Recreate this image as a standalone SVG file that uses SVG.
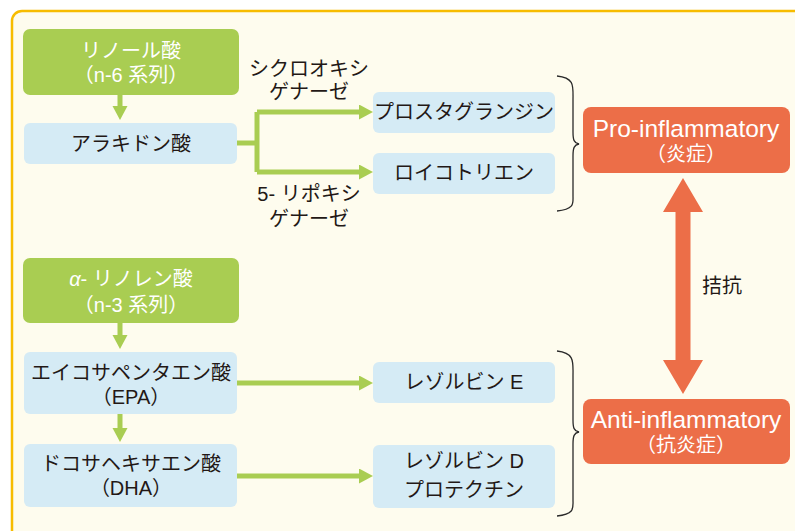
<svg xmlns="http://www.w3.org/2000/svg" width="795" height="531" viewBox="0 0 795 531">
<defs>
<style>
.jp{font-family:"Liberation Sans","Noto Sans CJK JP",sans-serif;font-size:20px;fill:#231815;text-anchor:middle}
.wt{fill:#ffffff}
.en{font-family:"Liberation Sans","Noto Sans CJK JP",sans-serif;font-size:24.5px;fill:#ffffff;text-anchor:middle}
.sub{font-size:20px}
.green{fill:#A9CD52}
.blue{fill:#D5EBF5}
.orange{fill:#EC6E48}
.gline{stroke:#A9CD52;stroke-width:5;fill:none}
.brace{stroke:#2a2a2a;stroke-width:1.3;fill:none}
</style>
<marker id="ga" markerUnits="userSpaceOnUse" markerWidth="14" markerHeight="16" refX="0" refY="7.5" orient="auto">
<path d="M0,0 L14,7.5 L0,15 z" fill="#A9CD52"/>
</marker>
</defs>
<rect x="12" y="11" width="800" height="540" rx="10" fill="#FEFCEE" stroke="#F7BC00" stroke-width="2.5"/>

<g id="connectors">
<line class="gline" x1="120" y1="95" x2="120" y2="106" marker-end="url(#ga)"/>
<path class="gline" d="M237,143 H257 M257,112 V172"/>
<line class="gline" x1="257" y1="112" x2="359" y2="112" marker-end="url(#ga)"/>
<line class="gline" x1="257" y1="172" x2="359" y2="172" marker-end="url(#ga)"/>
<line class="gline" x1="120" y1="323" x2="120" y2="335" marker-end="url(#ga)"/>
<line class="gline" x1="120" y1="414" x2="120" y2="428" marker-end="url(#ga)"/>
<line class="gline" x1="237" y1="383" x2="359" y2="383" marker-end="url(#ga)"/>
<line class="gline" x1="237" y1="476" x2="359" y2="476" marker-end="url(#ga)"/>
<path class="brace" d="M557,76 C575,78 573,86 573,100 L573,132 C573,140 574,143 579,144 C574,145 573,148 573,156 L573,196 C573,203 575,209 557,211"/>
<path class="brace" d="M557,351 C575,353 573,362 573,376 L573,420 C573,428 574,431 579,432 C574,433 573,436 573,444 L573,500 C573,508 575,514 557,516"/>
<polygon class="orange" points="683,178 703,212 690.5,212 690.5,360 703,360 683,394 663,360 675.5,360 675.5,212 663,212"/>
<text class="jp" x="702" y="293" style="text-anchor:start">拮抗</text>
</g>

<g id="n6">
<rect class="green" x="23" y="29" width="216" height="66" rx="7"/>
<text class="jp wt" x="131" y="58">リノール酸<tspan x="131" dy="24">（n-6 系列）</tspan></text>
</g>
<g id="aa">
<rect class="blue" x="24" y="123" width="213" height="41" rx="6"/>
<text class="jp" x="131" y="151">アラキドン酸</text>
</g>
<g id="cox">
<text class="jp" x="309" y="75.5">シクロオキシ<tspan x="309" dy="23">ゲナーゼ</tspan></text>
</g>
<g id="lox">
<text class="jp" x="309" y="201">5- リポキシ<tspan x="309" dy="25">ゲナーゼ</tspan></text>
</g>
<g id="pg">
<rect class="blue" x="373" y="92" width="182" height="41" rx="6"/>
<text class="jp" x="464" y="119">プロスタグランジン</text>
</g>
<g id="lt">
<rect class="blue" x="373" y="153" width="182" height="41" rx="6"/>
<text class="jp" x="464" y="180">ロイコトリエン</text>
</g>
<g id="pro">
<rect class="orange" x="583" y="107" width="207" height="66" rx="8"/>
<text class="en" x="686" y="136.5">Pro-inflammatory<tspan class="sub" x="686" dy="24">（炎症）</tspan></text>
</g>
<g id="n3">
<rect class="green" x="23" y="258" width="216" height="65" rx="7"/>
<text class="jp wt" x="131" y="286"><tspan font-style="italic">α</tspan>- リノレン酸<tspan x="131" dy="26">（n-3 系列）</tspan></text>
</g>
<g id="epa">
<rect class="blue" x="24" y="352" width="213" height="62" rx="6"/>
<text class="jp" x="131" y="380">エイコサペンタエン酸<tspan x="131" dy="24">（EPA）</tspan></text>
</g>
<g id="dha">
<rect class="blue" x="24" y="444" width="213" height="63" rx="6"/>
<text class="jp" x="131" y="471">ドコサヘキサエン酸<tspan x="131" dy="24">（DHA）</tspan></text>
</g>
<g id="rve">
<rect class="blue" x="373" y="362" width="182" height="41" rx="6"/>
<text class="jp" x="464" y="389">レゾルビン E</text>
</g>
<g id="rvd">
<rect class="blue" x="373" y="445" width="182" height="63" rx="6"/>
<text class="jp" x="464" y="468">レゾルビン D<tspan x="464" dy="29">プロテクチン</tspan></text>
</g>
<g id="anti">
<rect class="orange" x="583" y="399" width="207" height="65" rx="8"/>
<text class="en" x="686" y="427.5">Anti-inflammatory<tspan class="sub" x="686" dy="24">（抗炎症）</tspan></text>
</g>
</svg>
